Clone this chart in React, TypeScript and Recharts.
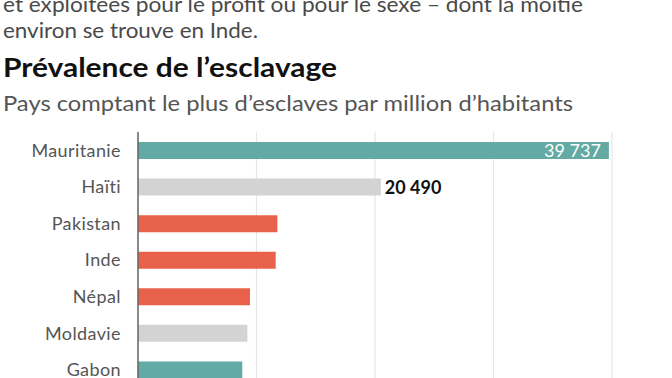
import React from "react";
import { BarChart, Bar, XAxis, YAxis, CartesianGrid, Cell, LabelList } from "recharts";

const countries = ["Mauritanie", "Haïti", "Pakistan", "Inde", "Népal", "Moldavie", "Gabon"];
const slavesPerMillion = [39737, 20490, 11760, 11620, 9450, 9230, 8800];
const regions = ["Afrique", "Autre", "Asie", "Asie", "Asie", "Autre", "Afrique"];
const labelledIndices = [0, 1];
const xTicks = [0, 10000, 20000, 30000, 40000];

const introLines = [
  "et exploitées pour le profit ou pour le sexe – dont la moitié",
  "environ se trouve en Inde.",
];
const title = "Prévalence de l’esclavage";
const subtitle = "Pays comptant le plus d’esclaves par million d’habitants";

const regionColors: Record<string, string> = {
  Afrique: "#62aaa3",
  Autre: "#d3d3d3",
  Asie: "#e8614a",
};

const data = countries.map((c, i) => ({
  country: c,
  value: slavesPerMillion[i],
  region: regions[i],
}));

const fmt = (v: number) => String(v).replace(/\B(?=(\d{3})+(?!\d))/g, " ");

const FONT = "Lato, 'Open Sans', sans-serif";

const ValueLabel = (props: any) => {
  const { x, y, width, height, index, value } = props;
  if (!labelledIndices.includes(index)) return null;
  const cy = y + height / 2;
  if (index === 0) {
    return (
      <text x={x + width - 8} y={cy} dy="0.36em" textAnchor="end" fill="#ffffff" fontSize={18} fontFamily={FONT}>
        {fmt(value)}
      </text>
    );
  }
  return (
    <text x={x + width + 4} y={cy} dy="0.36em" textAnchor="start" fill="#111111" fontSize={18} fontWeight={700} fontFamily={FONT}>
      {fmt(value)}
    </text>
  );
};

export default function App() {
  return (
    <div style={{ position: "absolute", left: 0, top: 0, width: 672, height: 378, overflow: "hidden", background: "#ffffff" }}>
      <svg width={672} height={130} style={{ position: "absolute", left: 0, top: 0 }}>
        <text x={3} y={12} fontSize={21} fill="#4a4a4a" fontFamily={FONT} textLength={580} lengthAdjust="spacingAndGlyphs">
          {introLines[0]}
        </text>
        <text x={3} y={38} fontSize={21} fill="#4a4a4a" fontFamily={FONT} textLength={255} lengthAdjust="spacingAndGlyphs">
          {introLines[1]}
        </text>
        <text x={3} y={77} fontSize={26} fontWeight={700} fill="#111111" fontFamily={FONT} textLength={334} lengthAdjust="spacingAndGlyphs">
          {title}
        </text>
        <text x={3} y={111} fontSize={21} fill="#555555" fontFamily={FONT} textLength={570} lengthAdjust="spacingAndGlyphs">
          {subtitle}
        </text>
      </svg>
      <div style={{ position: "absolute", left: 0, top: 0 }}>
        <BarChart
          width={672}
          height={400}
          data={data}
          layout="vertical"
          margin={{ top: 132, right: 60, bottom: 12, left: 0 }}
        >
          <CartesianGrid horizontal={false} vertical={true} stroke="#e6e6e6" strokeWidth={1.2} />
          <XAxis type="number" domain={[0, 40000]} ticks={xTicks} hide />
          <YAxis
            type="category"
            dataKey="country"
            width={138}
            tickLine={false}
            tickMargin={11}
            axisLine={{ stroke: "#666666", strokeWidth: 1.5 }}
            tick={{ fill: "#555555", fontSize: 18, fontFamily: FONT, letterSpacing: 0.4 }}
            interval={0}
          />
          <Bar dataKey="value" barSize={17} isAnimationActive={false}>
            {data.map((d, i) => (
              <Cell key={i} fill={regionColors[d.region]} />
            ))}
            <LabelList dataKey="value" content={ValueLabel} />
          </Bar>
        </BarChart>
      </div>
    </div>
  );
}
